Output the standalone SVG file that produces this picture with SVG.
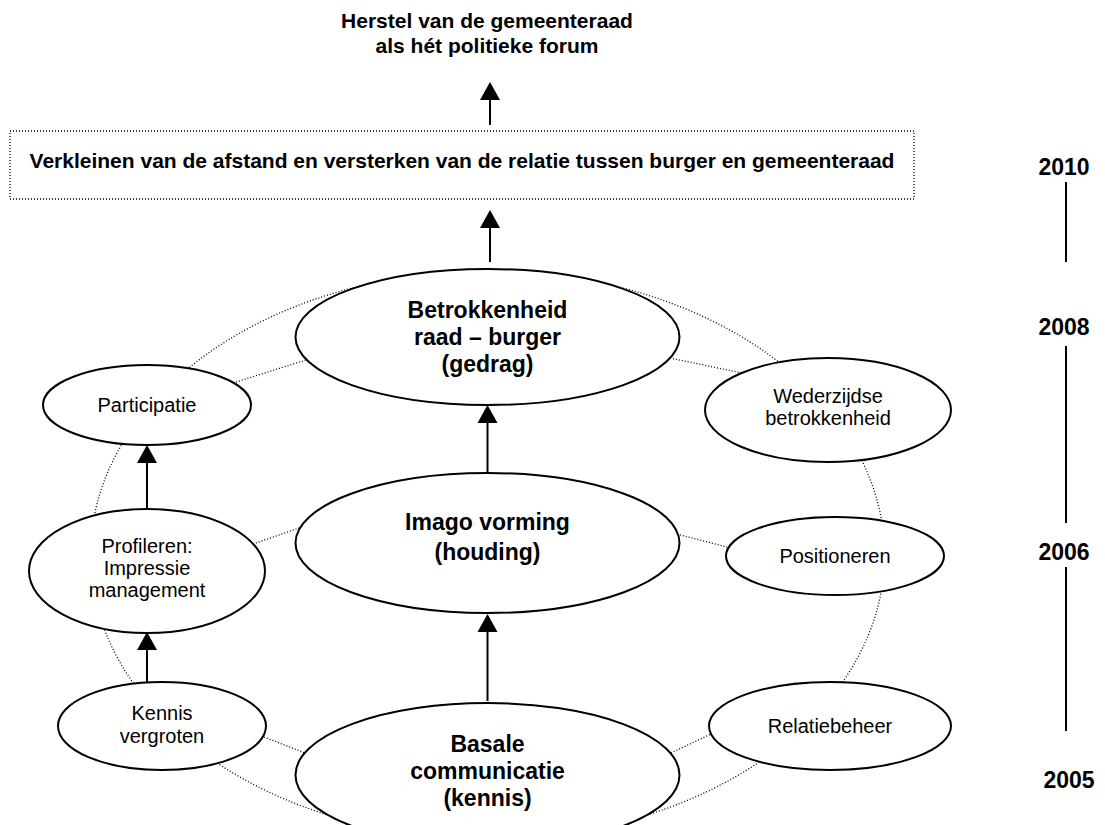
<svg xmlns="http://www.w3.org/2000/svg" width="1105" height="825" viewBox="0 0 1105 825">
<style>
.t{font-family:"Liberation Sans",Arial,sans-serif;fill:#000;text-anchor:middle}
.b{font-weight:bold}
.n{fill:#fff;stroke:#000;stroke-width:2}
.dot{fill:none;stroke:#000;stroke-width:1.3;stroke-dasharray:1 2}
.ar{stroke:#000;stroke-width:2;fill:none}
.tl{stroke:#000;stroke-width:2}
</style>
<defs>
<marker id="ah" markerUnits="userSpaceOnUse" markerWidth="20" markerHeight="20" viewBox="0 0 18 20" refX="0" refY="10" orient="auto">
<path d="M0,0 L18,7 L18,13 L0,20 Z" fill="#000" transform="rotate(180 9 10)"/>
</marker>
<marker id="arr" markerUnits="userSpaceOnUse" markerWidth="18" markerHeight="20" viewBox="0 0 18 20" refX="0" refY="10" orient="auto">
<path d="M0,0 L18,8 L18,12 L0,20 Z" fill="#000"/>
</marker>
</defs>

<g id="title">
<text class="t b" x="487" y="28" font-size="21">Herstel van de gemeenteraad</text>
<text class="t b" x="487" y="53" font-size="21">als hét politieke forum</text>
</g>

<g id="goal">
<rect x="10" y="131" width="904" height="68" class="dot"/>
<text class="t b" x="462" y="168" font-size="21">Verkleinen van de afstand en versterken van de relatie tussen burger en gemeenteraad</text>
</g>

<g id="timeline">
<text class="t b" x="1064" y="175" font-size="23">2010</text>
<line class="tl" x1="1066" y1="182" x2="1066" y2="262"/>
<text class="t b" x="1064" y="335" font-size="23">2008</text>
<line class="tl" x1="1066" y1="346" x2="1066" y2="523"/>
<text class="t b" x="1064" y="560" font-size="23">2006</text>
<line class="tl" x1="1066" y1="567" x2="1066" y2="731"/>
<text class="t b" x="1069" y="788" font-size="23">2005</text>
</g>

<g id="connectors">
<ellipse cx="487.5" cy="555" rx="397" ry="284" class="dot"/>
<line class="dot" x1="236" y1="382" x2="306" y2="360"/>
<line class="dot" x1="670" y1="358" x2="742" y2="373"/>
<line class="dot" x1="253" y1="544" x2="302" y2="527"/>
<line class="dot" x1="677" y1="534" x2="727" y2="547"/>
<line class="dot" x1="264" y1="737" x2="305" y2="753"/>
<line class="dot" x1="671" y1="753" x2="711" y2="734"/>
<line class="ar" x1="490" y1="125" x2="490" y2="100"/>
<polygon points="490,82 500,100 480,100" fill="#000"/>
<line class="ar" x1="490" y1="262" x2="490" y2="228"/>
<polygon points="490,210 500,228 480,228" fill="#000"/>
<line class="ar" x1="487.5" y1="473" x2="487.5" y2="423"/>
<polygon points="487.5,405 497.5,423 477.5,423" fill="#000"/>
<line class="ar" x1="487.5" y1="701" x2="487.5" y2="632"/>
<polygon points="487.5,614 497.5,632 477.5,632" fill="#000"/>
<line class="ar" x1="147" y1="509" x2="147" y2="463"/>
<polygon points="147,445 157,463 137,463" fill="#000"/>
<line class="ar" x1="147" y1="682" x2="147" y2="650"/>
<polygon points="147,632 157,650 137,650" fill="#000"/>
</g>

<g id="betrokkenheid">
<ellipse class="n" cx="487.5" cy="337" rx="192" ry="68"/>
<text class="t b" x="487.5" y="318" font-size="23">Betrokkenheid</text>
<text class="t b" x="487.5" y="345" font-size="23">raad – burger</text>
<text class="t b" x="487.5" y="372" font-size="23">(gedrag)</text>
</g>

<g id="participatie">
<ellipse class="n" cx="147" cy="405" rx="104" ry="40"/>
<text class="t" x="147" y="412" font-size="20">Participatie</text>
</g>

<g id="wederzijdse">
<ellipse class="n" cx="828" cy="410" rx="123" ry="52"/>
<text class="t" x="828" y="403" font-size="20">Wederzijdse</text>
<text class="t" x="828" y="425" font-size="20">betrokkenheid</text>
</g>

<g id="imago">
<ellipse class="n" cx="487.5" cy="543" rx="192" ry="70"/>
<text class="t b" x="487.5" y="530" font-size="23">Imago vorming</text>
<text class="t b" x="487.5" y="560" font-size="23">(houding)</text>
</g>

<g id="profileren">
<ellipse class="n" cx="147" cy="571" rx="118" ry="62"/>
<text class="t" x="147" y="553" font-size="20">Profileren:</text>
<text class="t" x="147" y="575" font-size="20">Impressie</text>
<text class="t" x="147" y="597" font-size="20">management</text>
</g>

<g id="positioneren">
<ellipse class="n" cx="835" cy="556" rx="109" ry="39"/>
<text class="t" x="835" y="563" font-size="20">Positioneren</text>
</g>

<g id="kennis">
<ellipse class="n" cx="162" cy="726" rx="104" ry="44"/>
<text class="t" x="162" y="720" font-size="20">Kennis</text>
<text class="t" x="162" y="743" font-size="20">vergroten</text>
</g>

<g id="basale">
<ellipse class="n" cx="487.5" cy="775" rx="192" ry="72"/>
<text class="t b" x="487.5" y="752" font-size="23">Basale</text>
<text class="t b" x="487.5" y="779" font-size="23">communicatie</text>
<text class="t b" x="487.5" y="806" font-size="23">(kennis)</text>
</g>

<g id="relatiebeheer">
<ellipse class="n" cx="830" cy="726" rx="121" ry="44"/>
<text class="t" x="830" y="733" font-size="20">Relatiebeheer</text>
</g>
</svg>
